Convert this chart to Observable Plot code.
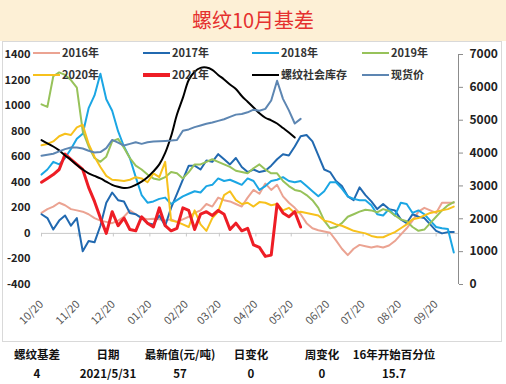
<!DOCTYPE html>
<html><head><meta charset="utf-8">
<script src="https://cdn.jsdelivr.net/npm/d3@7"></script>
<script src="https://cdn.jsdelivr.net/npm/@observablehq/plot@0.6"></script>
<style>
body{margin:0;width:506px;height:384px;overflow:hidden;background:#fff;font-family:"Noto Sans CJK SC","Liberation Sans",sans-serif;position:relative;}
#title{position:absolute;left:0;top:0;width:506px;height:41px;background:#fdf0d6;color:#e5312f;font-size:20px;text-align:center;line-height:40px;}
#box{position:absolute;left:2px;top:41px;width:500px;height:301px;border:1px solid #d9d9d9;box-sizing:border-box;}
#chart{position:absolute;left:2px;top:42px;}
.lg{position:absolute;height:14px;font-size:11px;font-weight:bold;color:#333;white-space:nowrap;}
.lg i{position:absolute;left:0;top:7px;width:27px;}
.lg span{position:absolute;left:29px;top:-1px;line-height:14px;}
.tc{position:absolute;font-size:11.5px;font-weight:bold;color:#111;white-space:nowrap;transform:translateX(-50%);}
</style></head>
<body>
<div id="title">螺纹10月基差</div>
<div id="box"></div>
<div id="chart"></div>
<div id="legend"></div>
<div id="table"></div>
<script>
// ---- data (basis, yuan/ton, sampled every 5 days from 10/20) ----
const s2016 = [160,190,210,240,220,190,180,170,150,120, 100,90,80,100,130,180,150,120,110,115, 110,100,110,90,110,130,160,180,230,210, 280,260,250,230,210,280,340,310,390,340, 380,290,240,200,150,80,40,25,15,5, -55,-120,-170,-120,-90,-100,-110,-100,-110,-95, -60,-10,40,100,170,200,180,160,240,240, 240];
const s2017 = [150,120,30,100,140,60,120,-140,-60,-70, 60,240,320,260,250,160,150,120,80,70, 140,60,200,310,420,530,530,500,570,560, 620,580,540,590,520,480,500,480,490,530, 580,620,610,680,760,770,720,610,500,480, 410,370,290,260,360,300,250,190,230,190, 180,110,80,150,130,120,70,20,0,10, 10];
const s2018 = [460,500,560,540,590,660,740,780,980,1080, 1250,1050,960,800,680,590,440,300,240,250, 270,280,230,260,290,310,330,320,370,380, 430,410,420,400,380,430,410,340,370,410, 420,440,410,400,410,370,330,290,330,400, 400,350,290,270,260,260,220,150,140,190, 140,240,230,160,180,150,100,50,40,35, -150];
const s2019 = [1010,990,1230,1260,1240,1200,1140,800,680,590, 560,600,720,740,670,590,530,500,460,430, 420,440,480,470,430,480,540,540,560,580, 560,540,520,490,480,470,510,540,500,470, 470,410,370,340,330,300,260,200,100,40, 50,80,130,150,170,185,180,165,190,175, 140,110,95,50,20,30,80,130,180,220, 245];
const s2020 = [690,700,720,760,780,770,830,850,700,600, 520,450,420,415,410,420,440,430,400,470, 440,560,100,90,70,50,180,70,20,120, 170,300,330,260,230,240,210,245,240,220, 230,180,200,160,170,160,150,140,100,90, 70,60,40,20,10,0,-20,-30,-30,-10, 10,40,70,110,120,140,160,170,180,190, 210];
const s2021 = [400,430,460,500,620,580,540,500,360,250, 120,0,170,60,120,30,20,130,80,50, 200,60,20,40,200,180,30,150,170,140, 180,150,30,80,20,40,-90,-110,-180,-170, 230,160,130,170,50];
// rebar social inventory (10k t, left axis)
const inventory = [730,705,680,650,610,575,535,500,470,450, 430,405,380,365,355,360,380,405,440,485, 540,630,760,930,1060,1200,1265,1295,1298,1280, 1240,1205,1165,1130,1075,1030,985,940,905,885, 860,825,790,750];
// spot price (yuan/ton, right axis)
const spot = [3920,3950,3980,4050,4120,4170,4170,4140,4070,4020, 4030,4150,4400,4320,4230,4280,4330,4280,4330,4350, 4360,4370,4380,4400,4680,4720,4790,4840,4890,4930, 4980,5030,5100,5170,5190,5240,5320,5290,5345,5600, 6200,5650,5300,4900,5040];

const leftTicks = [-400,-200,0,200,400,600,800,1000,1200,1400];
const rightTicks = [0,1000,2000,3000,4000,5000,6000,7000];
const seriesNames = ["2016年","2017年","2018年","2019年","2020年","2021年","螺纹社会库存","现货价"];
const seriesColors = ["#eba392","#2169b0","#1ba6e4","#97c25a","#f7c11c","#ee1d25","#000000","#5d86b2"];
const tableHeaders = ["螺纹基差","日期","最新值(元/吨)","日变化","周变化","16年开始百分位"];
const tableValues = ["4","2021/5/31","57","0","0","15.7"];

// ---- build ----
const start = new Date(Date.UTC(2020, 9, 20));
const xEnd = d3.utcDay.offset(start, 354);
const dateAt = i => d3.utcDay.offset(start, i * 5);
const monthTicks = d3.range(12).map(m => d3.utcMonth.offset(start, m));
const rows = arr => arr.map((v, i) => ({date: dateAt(i), v}));
const rightToLeft = v => v * 1800 / 7000 - 400;

const basis = [s2016, s2017, s2018, s2019, s2020, s2021];
const marks = [
  Plot.ruleY([0], {stroke: "#c8c8c8"}),
  Plot.ruleX(monthTicks, {y1: 0, y2: -28, stroke: "#c8c8c8"}),
  Plot.ruleX([xEnd], {stroke: "#8c8c8c"}),
  Plot.axisY(leftTicks, {anchor: "left", tickSize: 0, tickPadding: 11, label: null, fontSize: 11, fontWeight: "bold", fill: "#222",
    tickFormat: d => String(d)}),
  Plot.axisY(rightTicks.map(rightToLeft), {anchor: "right", tickSize: 4, tickPadding: 7, label: null, stroke: "#8c8c8c",
    tickFormat: d => String(Math.round((d + 400) * 7000 / 1800)), fontSize: 12, fontWeight: "bold", fill: "#222"}),
  Plot.axisX(monthTicks, {anchor: "bottom", tickSize: 0, tickPadding: 18, tickRotate: -45, label: null,
    tickFormat: d3.utcFormat("%m/%d"), fontSize: 11, fill: "#555"})
];
basis.forEach((arr, k) => {
  marks.push(Plot.line(rows(arr), {x: "date", y: "v", stroke: seriesColors[k], strokeWidth: k === 5 ? 3 : 2}));
});
marks.push(Plot.line(rows(inventory), {x: "date", y: "v", stroke: seriesColors[6], strokeWidth: 2, curve: "catmull-rom"}));
marks.push(Plot.line(rows(spot), {x: "date", y: d => rightToLeft(d.v), stroke: seriesColors[7], strokeWidth: 2}));

const chart = Plot.plot({
  width: 500, height: 300,
  marginLeft: 39, marginRight: 44, marginTop: 12, marginBottom: 58,
  x: {type: "utc", domain: [start, xEnd]},
  y: {domain: [-400, 1400]},
  style: {fontFamily: "'Noto Sans CJK SC', sans-serif", background: "transparent", color: "#333"},
  marks
});
document.getElementById("chart").appendChild(chart);

// legend (two rows of four)
const lg = document.getElementById("legend");
const colX = [33, 143, 252, 362], rowY = [46, 68];
seriesNames.forEach((name, k) => {
  const d = document.createElement("div");
  d.className = "lg";
  d.style.left = colX[k % 4] + "px";
  d.style.top = rowY[Math.floor(k / 4)] + "px";
  const w = k === 5 ? 4 : 2.5;
  d.innerHTML = `<i style="background:${seriesColors[k]};height:${w}px;margin-top:${-w/2}px"></i><span>${name}</span>`;
  lg.appendChild(d);
});

// table below chart
const tb = document.getElementById("table");
const colC = [37, 108, 180, 251, 322, 394];
tableHeaders.forEach((h, k) => {
  const a = document.createElement("div");
  a.className = "tc"; a.style.left = colC[k] + "px"; a.style.top = "346px"; a.textContent = h;
  tb.appendChild(a);
  const b = document.createElement("div");
  b.className = "tc"; b.style.left = colC[k] + "px"; b.style.top = "365px"; b.textContent = tableValues[k];
  tb.appendChild(b);
});
</script>
</body></html>
